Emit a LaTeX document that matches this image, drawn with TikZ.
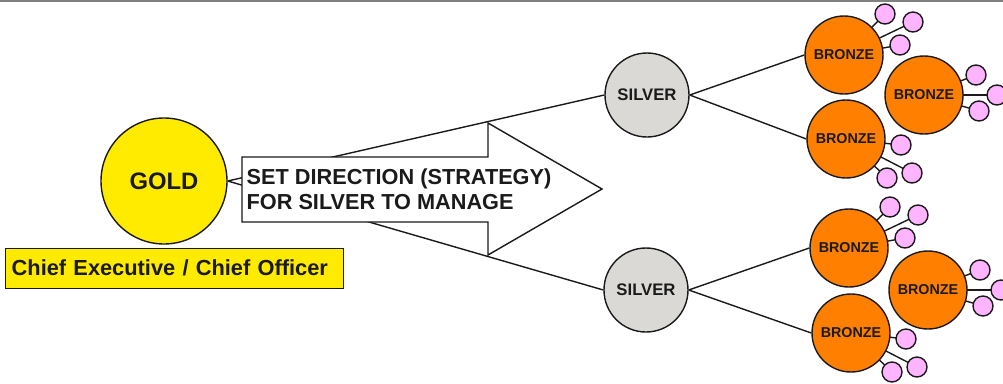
\documentclass[tikz,border=0pt]{standalone}
\usepackage{fontspec}
\setmainfont{Liberation Sans}
\usetikzlibrary{backgrounds}

\definecolor{goldfill}{RGB}{255,235,0}
\definecolor{silverfill}{RGB}{218,217,214}
\definecolor{bronzefill}{RGB}{255,128,0}
\definecolor{teamfill}{RGB}{255,180,255}
\definecolor{ink}{RGB}{26,26,26}

\begin{document}
\begin{tikzpicture}[x=1pt, y=-1pt, line width=1.4pt,
  rank/.style={circle, draw=ink, inner sep=0pt, text=ink},
  goldrank/.style={rank, fill=goldfill, minimum size=126pt,
    font=\bfseries\fontsize{23.8}{28}\selectfont},
  silverrank/.style={rank, fill=silverfill, minimum size=84pt,
    font=\bfseries\fontsize{16.7}{20}\selectfont},
  bronzerank/.style={rank, fill=bronzefill, minimum size=78pt,
    font=\bfseries\fontsize{14.3}{17}\selectfont},
  team/.style={circle, draw=ink, fill=teamfill, minimum size=20pt, inner sep=0pt},
  titlebox/.style={rectangle, draw=ink, fill=goldfill, text=ink,
    inner xsep=6pt, inner ysep=0pt, text width=326pt, minimum height=40pt,
    align=left, font=\bfseries\fontsize{21.8}{26}\selectfont},
  link/.style={draw=ink, line width=1.4pt}
]
\useasboundingbox (0,0) rectangle (1003,383);

% top rule
\draw[gray, line width=2pt] (0,1) -- (1003,1);

% gold level
\node[goldrank] (gold) at (164,181) {GOLD};
\node[titlebox, anchor=north west] (chief) at (5,247.5) {Chief Executive / Chief Officer};

% direction arrow
\draw[ink, fill=white] (242,157) -- (488,157) -- (488,123) -- (602,189)
  -- (488,255) -- (488,222) -- (242,222) -- cycle;
\node[anchor=west, inner sep=0pt, align=left, text=ink,
  font=\bfseries\fontsize{21.7}{25}\selectfont] (direction) at (246,188.8)
  {SET DIRECTION (STRATEGY)\\FOR SILVER TO MANAGE};

% silver level
\node[silverrank] (sA) at (647,95) {SILVER};
\node[silverrank] (sB) at (646,290) {SILVER};

% bronze level
\node[bronzerank] (bA1) at (844,55) {BRONZE};
\node[bronzerank] (bA2) at (924,95) {BRONZE};
\node[bronzerank] (bA3) at (846,139) {BRONZE};
\node[bronzerank] (bB1) at (849,248) {BRONZE};
\node[bronzerank] (bB2) at (928,290) {BRONZE};
\node[bronzerank] (bB3) at (851,333) {BRONZE};

% teams around each bronze
\foreach \g in {A,B} {
  \foreach \dx/\dy [count=\i] in {41/-41, 69/-33, 56/-10}
    \node[team] (t\g1-\i) at ([shift={(\dx,\dy)}]b\g1.center) {};
  \foreach \dx/\dy [count=\i] in {52/-20, 73/0, 55/16}
    \node[team] (t\g2-\i) at ([shift={(\dx,\dy)}]b\g2.center) {};
  \foreach \dx/\dy [count=\i] in {55/6, 66/34, 41/39}
    \node[team] (t\g3-\i) at ([shift={(\dx,\dy)}]b\g3.center) {};
}

% connectors
\begin{pgfonlayer}{background}
  \draw[link] (gold.east) -- (sA.west);
  \draw[link] (gold.east) -- (sB.west);
  \foreach \g in {A,B} {
    \draw[link] (s\g.east) -- (b\g1.west);
    \draw[link] (s\g.east) -- (b\g3.west);
    \foreach \b in {1,2,3}
      \foreach \i in {1,2,3}
        \draw[link] (b\g\b.center) -- (t\g\b-\i.center);
  }
\end{pgfonlayer}
\end{tikzpicture}
\end{document}
